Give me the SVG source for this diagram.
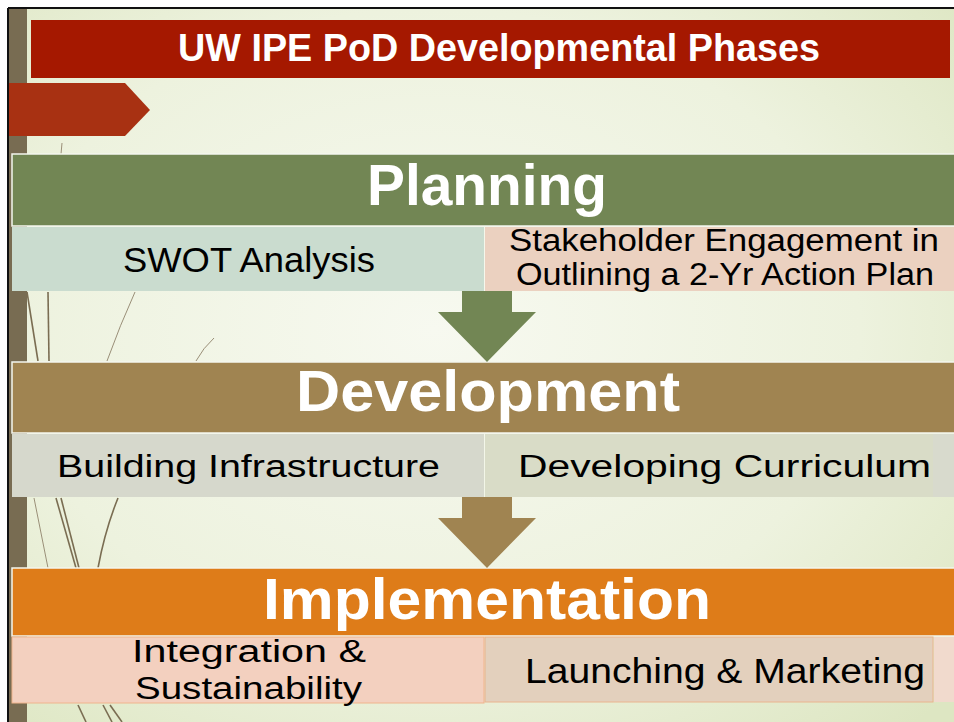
<svg xmlns="http://www.w3.org/2000/svg" width="954" height="722" viewBox="0 0 954 722">
  <defs>
    <radialGradient id="bg" cx="0.45" cy="0.45" r="0.75">
      <stop offset="0" stop-color="#f7f9f0"/>
      <stop offset="0.6" stop-color="#edf2de"/>
      <stop offset="1" stop-color="#dde6c2"/>
    </radialGradient>
    <style>
      .bar { stroke: #f4f6ee; stroke-width: 1.5; }
      .phase { font-family: "Liberation Sans", Arial, sans-serif; font-weight: bold; fill: #ffffff; font-size: 58px; }
      .title { font-family: "Liberation Sans", Arial, sans-serif; font-weight: bold; fill: #ffffff; font-size: 39px; }
      .cal { font-family: "Liberation Sans", Arial, sans-serif; fill: #000000; font-size: 35px; }
      .goth { font-family: "Liberation Sans", Arial, sans-serif; fill: #000000; font-size: 31px; }
      .grass { fill: none; stroke: #7a6d52; stroke-width: 1.6; }
      .grass-thin { fill: none; stroke: #9a8f78; stroke-width: 1; }
    </style>
  </defs>

  <!-- page -->
  <rect x="0" y="0" width="954" height="722" fill="#ffffff"/>
  <rect x="9" y="9" width="945" height="713" fill="url(#bg)"/>
  <rect x="9" y="9" width="18" height="713" fill="#786c52"/>

  <!-- decorative grass -->
  <g id="grass">
    <path class="grass" d="M27 292 L38 361"/>
    <path class="grass" d="M48 292 L49 361"/>
    <path class="grass-thin" d="M135 292 Q120 325 107 361"/>
    <path class="grass-thin" d="M214 338 Q203 348 196 361"/>
    <path class="grass-thin" d="M62 143 L61 154"/>
    <path class="grass" d="M56 498 L76 568"/>
    <path class="grass" d="M61 498 L79 568"/>
    <path class="grass-thin" d="M34 498 L48 568"/>
    <path class="grass" d="M118 498 Q105 530 98 568"/>
    <path class="grass" d="M78 705 L86 722"/>
    <path class="grass" d="M103 705 L112 722"/>
    <path class="grass" d="M110 705 L122 722"/>
  </g>

  <!-- black frame -->
  <line x1="8" y1="8" x2="954" y2="8" stroke="#111111" stroke-width="2"/>
  <line x1="8" y1="8" x2="8" y2="722" stroke="#111111" stroke-width="2"/>

  <g id="title">
    <rect x="31" y="20" width="919" height="58" fill="#a51800"/>
    <text class="title" x="178" y="61" textLength="642" lengthAdjust="spacingAndGlyphs">UW IPE PoD Developmental Phases</text>
  </g>

  <g id="chevron">
    <polygon points="9,83 125,83 150,110 125,136 9,136" fill="#a83112"/>
  </g>

  <g id="planning">
    <rect class="bar" x="12" y="154" width="944" height="72" fill="#728654"/>
    <text class="phase" x="367" y="205" textLength="240" lengthAdjust="spacingAndGlyphs">Planning</text>
  </g>

  <g id="swot">
    <rect x="12" y="227" width="472" height="64" fill="#cadccf"/>
    <text class="cal" x="123" y="272" textLength="252" lengthAdjust="spacingAndGlyphs">SWOT Analysis</text>
  </g>

  <g id="stakeholder">
    <rect x="485" y="227" width="469" height="64" fill="#ebd1c0"/>
    <text class="goth" x="509" y="251" textLength="430" lengthAdjust="spacingAndGlyphs">Stakeholder Engagement in</text>
    <text class="goth" x="516" y="285" textLength="418" lengthAdjust="spacingAndGlyphs">Outlining a 2-Yr Action Plan</text>
  </g>

  <g id="development">
    <rect class="bar" x="12" y="362" width="944" height="71" fill="#a08451"/>
    <text class="phase" x="296" y="411" textLength="384" lengthAdjust="spacingAndGlyphs">Development</text>
  </g>

  <g id="building">
    <rect x="12" y="434" width="472" height="63" fill="#d6d8cc"/>
    <text class="goth" x="57" y="477" textLength="383" lengthAdjust="spacingAndGlyphs">Building Infrastructure</text>
  </g>

  <g id="curriculum">
    <rect x="485" y="434" width="448" height="63" fill="#d9dcc7"/>
    <rect x="933" y="434" width="21" height="63" fill="#d8dacd"/>
    <text class="goth" x="518" y="477" textLength="413" lengthAdjust="spacingAndGlyphs">Developing Curriculum</text>
  </g>

  <g id="implementation">
    <rect class="bar" x="12" y="568" width="944" height="68" fill="#de7c19"/>
    <text class="phase" x="263" y="619" textLength="448" lengthAdjust="spacingAndGlyphs">Implementation</text>
  </g>

  <g id="integration">
    <rect x="12" y="637" width="472" height="66" fill="#f3d0bf" stroke="#f0b48c" stroke-width="1"/>
    <text class="goth" x="132" y="662" textLength="234" lengthAdjust="spacingAndGlyphs">Integration &amp;</text>
    <text class="goth" x="135" y="699" textLength="227" lengthAdjust="spacingAndGlyphs">Sustainability</text>
  </g>

  <g id="launching">
    <rect x="485" y="637" width="448" height="65" fill="#e3d0bd" stroke="#eab48e" stroke-width="1"/>
    <rect x="934" y="637" width="20" height="65" fill="#f1dacd"/>
    <text class="cal" x="525" y="683" textLength="400" lengthAdjust="spacingAndGlyphs">Launching &amp; Marketing</text>
  </g>

  <g id="connectors">
    <polygon id="arrow-plan-dev" points="462,291 512,291 512,312 536,312 487,362 438,312 462,312" fill="#728654"/>
    <polygon id="arrow-dev-impl" points="462,497 512,497 512,518 536,518 487,568 438,518 462,518" fill="#a08451"/>
  </g>
</svg>
